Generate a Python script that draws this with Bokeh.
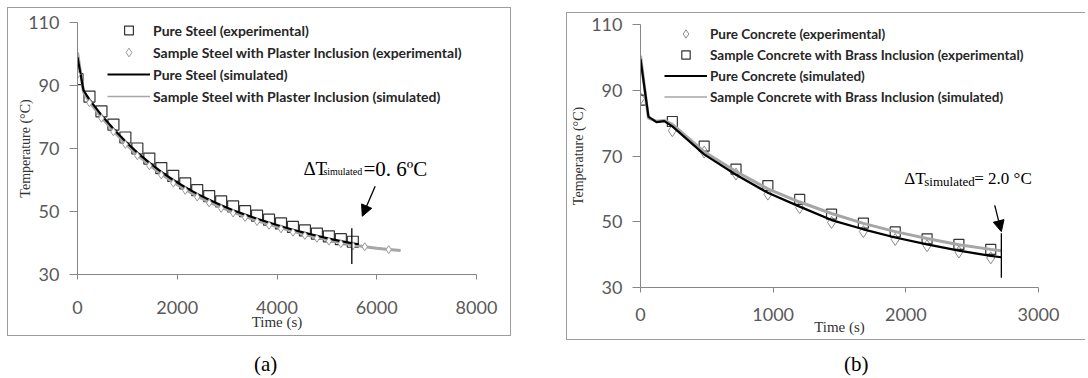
from bokeh.plotting import figure
from bokeh.models import (Label, Arrow, NormalHead, Legend, LegendItem,
                          FixedTicker, Range1d, Div)
from bokeh.layouts import row, column
from bokeh.embed import file_html
from bokeh.resources import INLINE

# ---------------- data: panel (a) steel ----------------
steel_x_ticks = [0, 2000, 4000, 6000, 8000]
temp_ticks = [30, 50, 70, 90, 110]

pure_steel_exp_t = [0, 240, 480, 720, 960, 1200, 1440, 1680, 1920, 2160, 2400, 2640,
                    2880, 3120, 3360, 3600, 3840, 4080, 4320, 4560, 4800, 5040, 5280, 5520]
pure_steel_exp = [92.0, 86.5, 81.8, 77.6, 73.5, 70.0, 66.8, 63.8, 61.3, 58.9, 56.8, 54.9,
                  53.2, 51.6, 50.1, 48.7, 47.4, 46.2, 45.1, 44.0, 43.0, 42.1, 41.2, 40.4]

sample_steel_exp_t = [0, 240, 480, 720, 960, 1200, 1440, 1680, 1920, 2160, 2400, 2640,
                      2880, 3120, 3360, 3600, 3840, 4080, 4320, 4560, 4800, 5040, 5280, 5520,
                      5760, 6240]
sample_steel_exp = [93.5, 84.5, 79.6, 75.3, 71.3, 67.7, 64.5, 61.6, 59.0, 56.7, 54.6, 52.7,
                    51.0, 49.5, 48.1, 46.8, 45.6, 44.5, 43.4, 42.4, 41.5, 40.6, 39.8, 39.1,
                    38.8, 37.9]

pure_steel_sim_t = [0, 120, 240, 480, 720, 960, 1200, 1440, 1680, 1920, 2160, 2400, 2640,
                    2880, 3120, 3360, 3600, 3840, 4080, 4320, 4560, 4800, 5040, 5280, 5520, 5640]
pure_steel_sim = [99.0, 88.5, 85.5, 80.6, 76.3, 72.3, 68.7, 65.5, 62.6, 60.0, 57.7, 55.6, 53.7,
                  52.0, 50.4, 49.0, 47.7, 46.5, 45.3, 44.2, 43.2, 42.3, 41.4, 40.6, 39.9, 39.6]

sample_steel_sim_t = [0, 120, 240, 480, 720, 960, 1200, 1440, 1680, 1920, 2160, 2400, 2640,
                      2880, 3120, 3360, 3600, 3840, 4080, 4320, 4560, 4800, 5040, 5280, 5520,
                      5760, 6000, 6240, 6480]
sample_steel_sim = [100.5, 88.0, 84.8, 79.9, 75.6, 71.6, 68.0, 64.8, 61.9, 59.3, 57.0, 54.9, 53.0,
                    51.3, 49.8, 48.4, 47.1, 45.9, 44.8, 43.7, 42.7, 41.8, 40.9, 40.1, 39.4,
                    38.8, 38.3, 37.9, 37.6]

# ---------------- data: panel (b) concrete ----------------
concrete_x_ticks = [0, 1000, 2000, 3000]
concrete_exp_t = [0, 240, 480, 720, 960, 1200, 1440, 1680, 1920, 2160, 2400, 2640]
pure_concrete_exp = [87.5, 77.7, 71.2, 64.5, 58.4, 54.3, 49.8, 47.0, 44.6, 42.7, 40.8, 39.0]
brass_concrete_exp = [87.0, 80.5, 73.0, 66.0, 61.0, 56.8, 52.3, 49.6, 46.9, 44.8, 43.1, 41.6]

concrete_sim_t = [0, 60, 120, 180, 240, 480, 720, 960, 1200, 1440, 1680, 1920, 2160, 2400, 2640, 2720]
pure_concrete_sim = [99.5, 82.0, 80.3, 80.6, 79.0, 70.5, 64.3, 58.8, 54.6, 50.5, 47.7, 45.2, 43.1, 41.2, 39.6, 39.2]
brass_concrete_sim = [100.5, 81.5, 80.6, 80.8, 79.6, 71.3, 65.3, 60.0, 56.0, 52.5, 49.5, 47.0, 44.9, 43.0, 41.6, 41.2]

# annotation anchors (data units)
steel_marker_x = [5500]
steel_marker_y0 = [33.3]
steel_marker_y1 = [44.7]
concrete_marker_x = [2720]
concrete_marker_y0 = [33.0]
concrete_marker_y1 = [46.5]

AXIS_GRAY = "#868686"
BOX_GRAY = "#9c9c9c"
TICK_FONT = "Lato"
SERIF = "Liberation Serif"


def make_fig(width, height, x_end, x_ticks, left, right, top, bottom, ylab_standoff,
             xlab_standoff, xtick_standoff, margin, styles):
    p = figure(width=width, height=height, output_backend="svg", toolbar_location=None,
               x_range=Range1d(0, x_end), y_range=Range1d(30, 110),
               min_border_left=left, min_border_right=right,
               min_border_top=top, min_border_bottom=bottom,
               background_fill_color="white", border_fill_color="white",
               margin=margin, styles=styles)
    p.frame_align = False
    p.outline_line_color = None
    p.grid.visible = False
    p.xaxis.ticker = FixedTicker(ticks=x_ticks)
    p.yaxis.ticker = FixedTicker(ticks=temp_ticks)
    for ax in (p.xaxis[0], p.yaxis[0]):
        ax.axis_line_color = AXIS_GRAY
        ax.major_tick_line_color = AXIS_GRAY
        ax.minor_tick_line_color = None
        ax.major_tick_in = 0
        ax.major_label_text_font = TICK_FONT
        ax.major_label_text_font_size = "18px"
        ax.major_label_text_color = "#595959"
        ax.axis_label_text_font = SERIF
        ax.axis_label_text_font_style = "normal"
        ax.axis_label_text_color = "#333333"
    p.xaxis.major_tick_out = 5
    p.yaxis.major_tick_out = 8
    p.xaxis.major_label_standoff = xtick_standoff
    p.yaxis.major_label_standoff = 10
    p.xaxis.axis_label = "Time (s)"
    p.xaxis.axis_label_text_font_size = "15px"
    p.xaxis.axis_label_standoff = xlab_standoff
    p.yaxis.axis_label = "Temperature (°C)"
    p.yaxis.axis_label_text_font_size = "14px"
    p.yaxis.axis_label_standoff = ylab_standoff
    return p


def add_delta(p, x, y, sub, rest, big, rest_size, sub_size, sub_dx, rest_dx):
    p.add_layout(Label(x=x, y=y, text="ΔT", text_font=SERIF, text_font_size=big,
                       text_color="black", text_baseline="alphabetic"))
    p.add_layout(Label(x=x, y=y, x_offset=sub_dx, y_offset=-3, text=sub, text_font=SERIF,
                       text_font_size=sub_size, text_color="black", text_baseline="alphabetic"))
    p.add_layout(Label(x=x, y=y, x_offset=rest_dx, text=rest, text_font=SERIF,
                       text_font_size=rest_size, text_color="black", text_baseline="alphabetic"))


def make_legend(p, items, loc, row_h, font_size):
    leg = Legend(items=items, location=loc, border_line_color=None,
                 background_fill_alpha=0, padding=0, margin=0, spacing=0,
                 label_height=row_h, glyph_height=row_h, glyph_width=43, label_standoff=3,
                 label_text_font="Lato", label_text_font_size=font_size,
                 label_text_font_style="bold", label_text_color="#262626")
    p.add_layout(leg)


def caption(text, left_margin, top_margin):
    return Div(text=text, width=40, height=24, margin=(top_margin, 0, 0, left_margin),
               styles={"font-family": SERIF, "font-size": "21px", "line-height": "24px",
                       "color": "black"})


# ---------------- panel (a) ----------------
# canvas spans x 8..512, y 8..337 of the page
pa = make_fig(504, 329, 8000, steel_x_ticks, 69, 36, 14, 63, -8, -3, 21,
              (7, 0, 0, 7), {"border": "1px solid " + BOX_GRAY})

r_sq_a = pa.scatter(pure_steel_exp_t, pure_steel_exp, marker="square", size=11,
                    fill_color=None, line_color="#333333", line_width=1.2)
r_gray_a = pa.line(sample_steel_sim_t, sample_steel_sim, line_color="#a6a6a6", line_width=3)
r_black_a = pa.line(pure_steel_sim_t, pure_steel_sim, line_color="black", line_width=2.2)
r_dia_a = pa.scatter(sample_steel_exp_t, sample_steel_exp, marker="diamond", size=8,
                     fill_color="white", line_color="#9a9a9a", line_width=1)

leg_gray_a = pa.line([0, 1], [0, 1], line_color="#a6a6a6", line_width=1.5, visible=False)
leg_black_a = pa.line([0, 1], [0, 1], line_color="black", line_width=2, visible=False)
make_legend(pa, [
    LegendItem(label="Pure Steel (experimental)", renderers=[r_sq_a]),
    LegendItem(label="Sample Steel with Plaster Inclusion (experimental)", renderers=[r_dia_a]),
    LegendItem(label="Pure Steel (simulated)", renderers=[leg_black_a]),
    LegendItem(label="Sample Steel with Plaster Inclusion (simulated)", renderers=[leg_gray_a]),
], (30, 167), 22, "14px")

pa.segment(x0=steel_marker_x, y0=steel_marker_y0, x1=steel_marker_x, y1=steel_marker_y1,
           line_color="black", line_width=1.3)
pa.add_layout(Arrow(x_start=5968, y_start=58.0, x_end=5710, y_end=48.5, line_width=1.3,
                    end=NormalHead(size=11, fill_color="black", line_color="black")))
add_delta(pa, 4529, 63.5, "simulated", "=0. 6ºC", "19px", "21px", "10px", 20, 60)

col_a = column(pa, caption("(a)", 254, 16))

# ---------------- panel (b) ----------------
# canvas spans x 569..1087, y 13..341 of the page
pb = make_fig(519, 328, 3000, concrete_x_ticks, 73, 48, 11, 54, 2, -5, 15,
              (12, 0, 0, 55), {"border-left": "1px solid " + BOX_GRAY,
                               "border-top": "1px solid " + BOX_GRAY,
                               "border-bottom": "1px solid " + BOX_GRAY})

r_dia_b = pb.scatter(concrete_exp_t, pure_concrete_exp, marker="diamond", size=12,
                     fill_color="white", line_color="#8c8c8c", line_width=1)
r_sq_b = pb.scatter(concrete_exp_t, brass_concrete_exp, marker="square", size=10,
                    fill_color=None, line_color="#333333", line_width=1.2)
r_gray_b = pb.line(concrete_sim_t, brass_concrete_sim, line_color="#a6a6a6", line_width=3)
r_black_b = pb.line(concrete_sim_t, pure_concrete_sim, line_color="black", line_width=2.2)

leg_gray_b = pb.line([0, 1], [0, 1], line_color="#a6a6a6", line_width=1.5, visible=False)
leg_black_b = pb.line([0, 1], [0, 1], line_color="black", line_width=2, visible=False)
make_legend(pb, [
    LegendItem(label="Pure Concrete (experimental)", renderers=[r_dia_b]),
    LegendItem(label="Sample Concrete with Brass Inclusion (experimental)", renderers=[r_sq_b]),
    LegendItem(label="Pure Concrete (simulated)", renderers=[leg_black_b]),
    LegendItem(label="Sample Concrete with Brass Inclusion (simulated)", renderers=[leg_gray_b]),
], (24, 180), 21, "13.5px")

pb.segment(x0=concrete_marker_x, y0=concrete_marker_y0, x1=concrete_marker_x, y1=concrete_marker_y1,
           line_color="black", line_width=1.3)
pb.add_layout(Arrow(x_start=2670, y_start=55.0, x_end=2720, y_end=47.0, line_width=1.3,
                    end=NormalHead(size=11, fill_color="black", line_color="black")))
add_delta(pb, 1988, 63.2, "simulated", "= 2.0 °C", "17px", "17px", "13px", 20, 70)

col_b = column(pb, caption("(b)", 333, 12))

layout = row(col_a, col_b)
open("out.html", "w").write(file_html(layout, INLINE))
